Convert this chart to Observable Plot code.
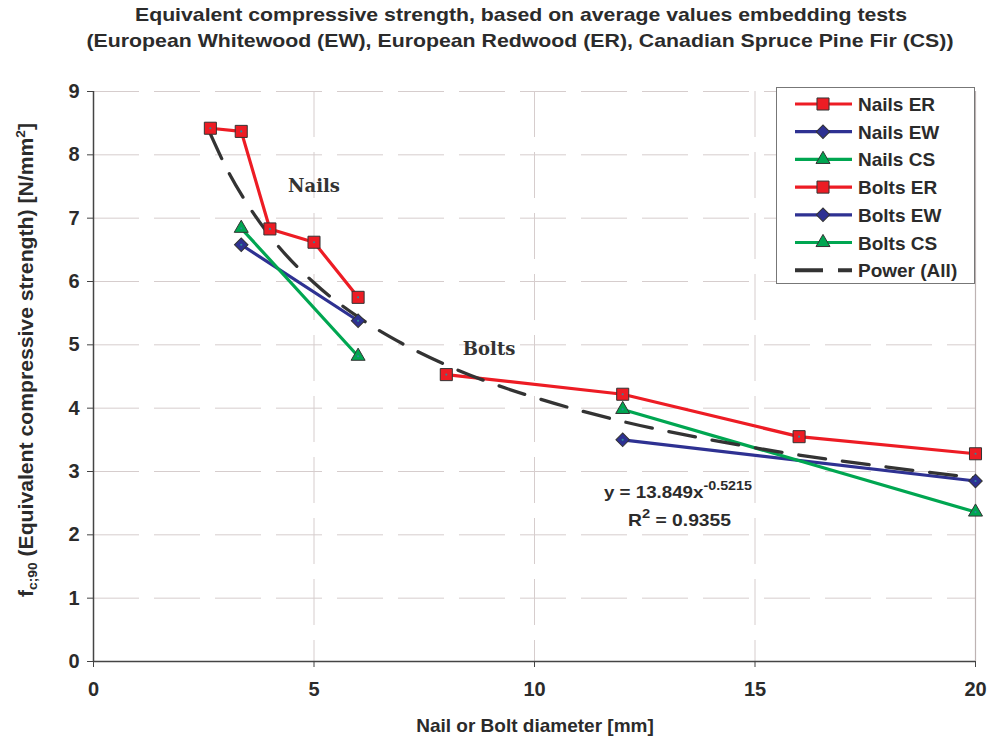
<!DOCTYPE html>
<html>
<head>
<meta charset="utf-8">
<script src="https://cdn.jsdelivr.net/npm/d3@7"></script>
<script src="https://cdn.jsdelivr.net/npm/@observablehq/plot@0.6"></script>
<style>
  html, body { margin: 0; padding: 0; background: #fff; }
  #chart { position: absolute; top: 0; left: 0; }
</style>
</head>
<body>
<div id="chart"></div>
<script>
// ---- data ----
const nailsERX = [2.65, 3.35, 4, 5, 6];
const nailsERY = [8.42, 8.37, 6.83, 6.62, 5.75];
const nailsEWX = [3.35, 6];
const nailsEWY = [6.58, 5.38];
const nailsCSX = [3.35, 6];
const nailsCSY = [6.84, 4.82];
const boltsERX = [8, 12, 16, 20];
const boltsERY = [4.53, 4.22, 3.55, 3.28];
const boltsEWX = [12, 20];
const boltsEWY = [3.50, 2.85];
const boltsCSX = [12, 20];
const boltsCSY = [3.98, 2.36];
// power trend line (All): y = 13.849 x^-0.5215
const trendX = [2.65, 3, 3.5, 4, 5, 6, 7, 8, 9, 10, 12, 14, 16, 18, 20];
const trendY = [8.33, 7.81, 7.21, 6.72, 5.98, 5.44, 5.02, 4.68, 4.40, 4.17, 3.79, 3.50, 3.26, 3.07, 2.90];
const xTicks = [0, 5, 10, 15, 20];
const yTicks = [0, 1, 2, 3, 4, 5, 6, 7, 8, 9];
const annotLabels = ["Nails", "Bolts"];
const annotX = [5.0, 8.97];
const annotY = [7.5, 4.93];
const seriesNames = ["Nails ER", "Nails EW", "Nails CS", "Bolts ER", "Bolts EW", "Bolts CS"];
const titleLines = [
  "Equivalent compressive strength, based on average values embedding tests",
  "(European Whitewood (EW), European Redwood (ER), Canadian Spruce Pine Fir (CS))"
];

const RED = "#ed1c24", BLUE = "#2e3192", GREEN = "#00a651";
const styles = {
  "Nails ER": {color: RED, symbol: "square", rotate: 0, r: 6.8},
  "Nails EW": {color: BLUE, symbol: "square", rotate: 45, r: 5.4},
  "Nails CS": {color: GREEN, symbol: "triangle", r: 5.2},
  "Bolts ER": {color: RED, symbol: "square", rotate: 0, r: 6.8},
  "Bolts EW": {color: BLUE, symbol: "square", rotate: 45, r: 5.4},
  "Bolts CS": {color: GREEN, symbol: "triangle", r: 5.2}
};

function rows(name, xs, ys) { return xs.map((x, i) => ({series: name, x, y: ys[i]})); }
const data = [
  ...rows("Nails ER", nailsERX, nailsERY),
  ...rows("Nails EW", nailsEWX, nailsEWY),
  ...rows("Nails CS", nailsCSX, nailsCSY),
  ...rows("Bolts ER", boltsERX, boltsERY),
  ...rows("Bolts EW", boltsEWX, boltsEWY),
  ...rows("Bolts CS", boltsCSX, boltsCSY)
];
const trend = trendX.map((x, i) => ({x, y: trendY[i]}));
const annots = annotLabels.map((t, i) => ({t, x: annotX[i], y: annotY[i]}));

const GRID = "#d6cdcd";
const marks = [
  Plot.gridY(yTicks.filter(d => d > 0), {stroke: GRID, strokeOpacity: 1, strokeDasharray: "46,15"}),
  Plot.gridX(xTicks.filter(d => d > 0 && d < 20), {stroke: GRID, strokeOpacity: 1, strokeDasharray: "46,15"}),
  Plot.ruleX([20], {stroke: "#bdb3b3", strokeWidth: 1.2}),
  Plot.axisY({ticks: yTicks, tickSize: 6, tickPadding: 8, label: null, stroke: "#444", fontSize: 20, tickFormat: d => d}),
  Plot.axisX({ticks: xTicks, tickSize: 6, tickPadding: 14, label: null, stroke: "#444", fontSize: 20, tickFormat: d => d}),
  Plot.ruleX([0], {stroke: "#444", strokeWidth: 1.5}),
  Plot.ruleY([0], {stroke: "#444", strokeWidth: 1.5}),
  Plot.text(annots, {x: "x", y: "y", text: "t", fontFamily: "'DejaVu Serif', 'Liberation Serif', serif",
    fontWeight: "bold", fontSize: 18, fill: "#333"})
];
for (const name of seriesNames) {
  const d = data.filter(r => r.series === name);
  marks.push(Plot.line(d, {x: "x", y: "y", stroke: styles[name].color, strokeWidth: 3.2}));
}
marks.push(Plot.line(trend, {x: "x", y: "y", stroke: "#333", strokeWidth: 3.3, strokeDasharray: "27,17", curve: "monotone-x"}));
for (const name of seriesNames) {
  const s = styles[name];
  const d = data.filter(r => r.series === name);
  marks.push(Plot.dot(d, {x: "x", y: "y", symbol: s.symbol, r: s.r, rotate: s.rotate || 0,
    fill: s.color, stroke: "#333", strokeWidth: 1}));
}
marks.push(Plot.dot(data, {x: "x", y: "y", r: 1.1, fill: "#2a8a9a", stroke: null}));

const plot = Plot.plot({
  width: 987, height: 745,
  marginTop: 91, marginLeft: 93, marginRight: 12, marginBottom: 84,
  x: {domain: [0, 20]},
  y: {domain: [0, 9]},
  style: {fontFamily: "'Liberation Sans', Arial, sans-serif", fontSize: "19px", fontWeight: "bold", color: "#2b2b2b", background: "white"},
  marks
});
document.getElementById("chart").appendChild(plot);

// ---- extra texts (title, axis titles, equation, legend) ----
const svg = d3.select(plot);
const sx = plot.scale("x"), sy = plot.scale("y");
const FONT = "'Liberation Sans', Arial, sans-serif";
function txt(sel) {
  return sel.append("text").attr("font-family", FONT).attr("font-weight", "bold")
    .attr("fill", "#2b2b2b").attr("text-anchor", "start");
}

// title (two lines)
const titleGeom = [{cx: 521, y: 20.5, len: 772}, {cx: 520, y: 47, len: 867}];
titleLines.forEach((line, i) => {
  const g = titleGeom[i];
  txt(svg).attr("x", g.cx - g.len / 2).attr("y", g.y).attr("font-size", 19)
    .attr("textLength", g.len).attr("lengthAdjust", "spacingAndGlyphs").text(line);
});

// x axis title
txt(svg).attr("x", 535).attr("y", 732).attr("text-anchor", "middle").attr("font-size", 19)
  .text("Nail or Bolt diameter [mm]");

// y axis title
const yl = txt(svg).attr("transform", "translate(33,597) rotate(-90)").attr("font-size", 20)
  .attr("textLength", 474).attr("lengthAdjust", "spacingAndGlyphs");
yl.append("tspan").text("f");
yl.append("tspan").attr("font-size", 13).attr("dy", 4).text("c;90");
yl.append("tspan").attr("dy", -4).text(" (Equivalent compressive strength) [N/mm");
yl.append("tspan").attr("font-size", 13).attr("dy", -8).text("2");
yl.append("tspan").attr("dy", 8).text("]");

// equation
const eq1 = txt(svg).attr("x", 604).attr("y", sy.apply(2.57)).attr("font-size", 17)
  .attr("textLength", 148).attr("lengthAdjust", "spacingAndGlyphs");
eq1.append("tspan").text("y = 13.849x");
eq1.append("tspan").attr("font-size", 13).attr("dy", -8).text("-0.5215");
const eq2 = txt(svg).attr("x", 628).attr("y", sy.apply(2.13)).attr("font-size", 17)
  .attr("textLength", 103).attr("lengthAdjust", "spacingAndGlyphs");
eq2.append("tspan").text("R");
eq2.append("tspan").attr("font-size", 13).attr("dy", -8).text("2");
eq2.append("tspan").attr("dy", 8).text(" = 0.9355");

// legend
const lg = svg.append("g");
lg.append("rect").attr("x", 776.5).attr("y", 87.5).attr("width", 198).attr("height", 196)
  .attr("fill", "white").attr("stroke", "#777").attr("stroke-width", 1);
const legendItems = [...seriesNames, "Power (All)"];
legendItems.forEach((name, i) => {
  const y = 104 + i * 27.7;
  const g = lg.append("g");
  if (name === "Power (All)") {
    g.append("line").attr("x1", 795).attr("x2", 852).attr("y1", y).attr("y2", y)
      .attr("stroke", "#333").attr("stroke-width", 4).attr("stroke-dasharray", "28,15");
  } else {
    const s = styles[name];
    g.append("line").attr("x1", 795).attr("x2", 852).attr("y1", y).attr("y2", y)
      .attr("stroke", s.color).attr("stroke-width", 3.2);
    const sym = s.symbol === "triangle" ? d3.symbolTriangle : d3.symbolSquare;
    g.append("path").attr("d", d3.symbol(sym, s.r * s.r * Math.PI)())
      .attr("transform", `translate(823,${y}) rotate(${s.rotate || 0})`)
      .attr("fill", s.color).attr("stroke", "#333").attr("stroke-width", 1);
  }
  txt(g).attr("x", 858).attr("y", y + 7).attr("font-size", 19).text(name);
});
</script>
</body>
</html>
